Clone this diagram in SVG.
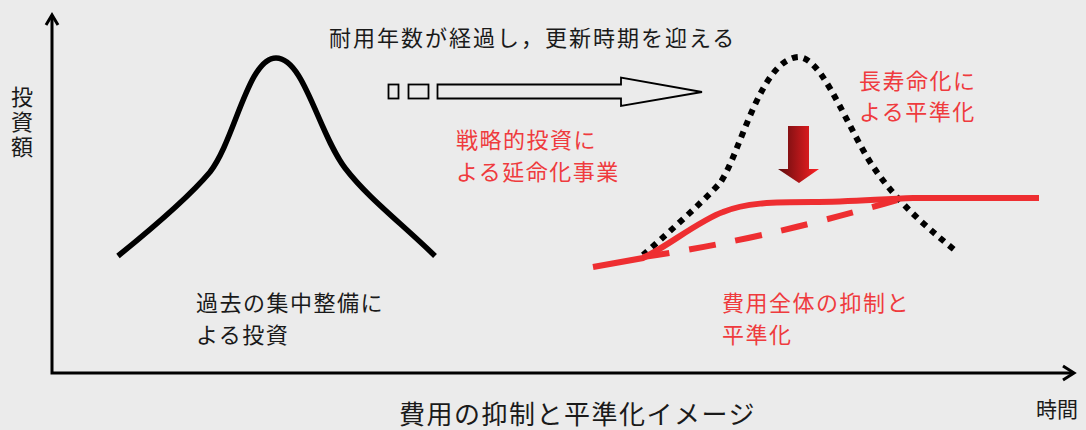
<svg xmlns="http://www.w3.org/2000/svg" width="1086" height="430" viewBox="0 0 1086 430">
<defs>
<style>
.t{font-family:"Noto Sans CJK JP","Noto Sans",sans-serif;font-size:22px;letter-spacing:1.5px;fill:#1a1a1a}
.r{fill:#ef3b3e}
.ax{stroke:#000;stroke-width:3;fill:none}
.red{stroke:#ee2e31;stroke-width:6;fill:none;stroke-linecap:butt}
</style>
<linearGradient id="g" x1="0" y1="0" x2="1" y2="0">
<stop offset="0" stop-color="#5e0c0e"/>
<stop offset="1" stop-color="#ff2024"/>
</linearGradient>
</defs>
<rect width="1086" height="430" fill="#ebebeb"/>
<g id="axes">
<path class="ax" d="M52,15 V373 H1073"/>
<path class="ax" d="M46,25 L52,15 L58,25"/>
<path class="ax" d="M1063,366 L1074,373 L1063,380"/>
<text class="t" x="22" y="86" style="writing-mode:vertical-rl;letter-spacing:3px">投資額</text>
<text class="t" x="1036" y="417" style="font-size:21px;letter-spacing:0">時間</text>
</g>
<g id="past-curve">
<path d="M118,256 C160,222 195,190 210,172 C235,140 248,58 276,58 C304,58 318,132 345,168 C368,198 400,222 435,256" stroke="#000" stroke-width="5.5" fill="none"/>
<text class="t" x="196" y="311">過去の集中整備に</text>
<text class="t" x="196" y="343">よる投資</text>
</g>
<g id="time-arrow">
<text class="t" x="329" y="46" style="letter-spacing:2px">耐用年数が経過し，更新時期を迎える</text>
<rect x="388.5" y="84.5" width="10" height="14" fill="none" stroke="#000" stroke-width="1.8"/>
<rect x="408.5" y="84.5" width="20" height="14" fill="none" stroke="#000" stroke-width="1.8"/>
<path d="M437.5,84.5 H621 V77.5 L702,92 L621,106 V98.5 H437.5 Z" fill="none" stroke="#000" stroke-width="1.8"/>
</g>
<g id="strategic-label">
<text class="t r" x="456" y="148">戦略的投資に</text>
<text class="t r" x="456" y="180">よる延命化事業</text>
</g>
<g id="future-peak">
<path d="M643,255 C660,240 700,205 720,183 C740,155 760,60 798,57 C820,57 840,110 867,157 C890,195 920,222 957,252" stroke="#000" stroke-width="6" stroke-dasharray="6 6" fill="none"/>
<text class="t r" x="859" y="89">長寿命化に</text>
<text class="t r" x="859" y="120">よる平準化</text>
</g>
<g id="down-arrow">
<path d="M788,126 H809 V169 H819 L799,183 L778,169 H788 Z" fill="url(#g)"/>
</g>
<g id="leveled">
<path class="red" d="M593,267 L643,258 C665,248 700,220 723,212 C745,203 770,202 813,202 C850,202 880,199 913,198 L1039,198"/>
<path class="red" d="M643,257 Q760,240 897,200" stroke-dasharray="27 20"/>
<text class="t r" x="722" y="311">費用全体の抑制と</text>
<text class="t r" x="722" y="343">平準化</text>
</g>
<g id="caption">
<text class="t" x="399" y="424" style="font-size:26px;letter-spacing:1.5px">費用の抑制と平準化イメージ</text>
</g>
</svg>
